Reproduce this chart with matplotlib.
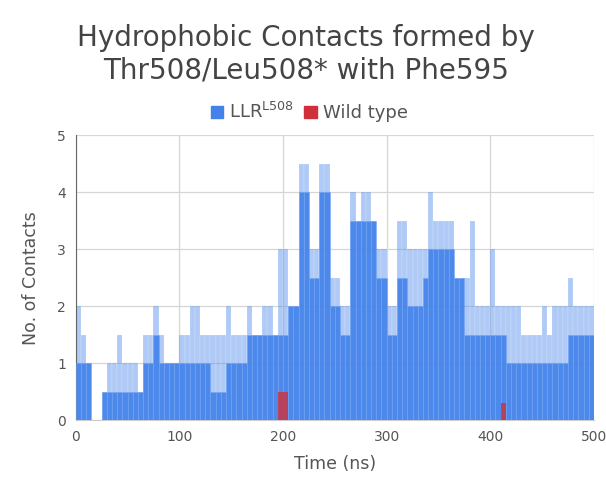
import numpy as np
import matplotlib
matplotlib.use("Agg")
import matplotlib.pyplot as plt
from matplotlib.patches import Patch

# time bins (ns), 5 ns wide
time = np.arange(0, 500, 5)

# LLR^L508: upper (light) envelope and lower (dark) level per bin
llr_high = [2, 1.5, 1, 0, 0, 0.5, 1, 1, 1.5, 1,
            1, 1, 0.5, 1.5, 1.5, 2, 1.5, 1, 1, 1,
            1.5, 1.5, 2, 2, 1.5, 1.5, 1.5, 1.5, 1.5, 2,
            1.5, 1.5, 1.5, 2, 1.5, 1.5, 2, 2, 1.5, 3,
            3, 2, 2, 4.5, 4.5, 3, 3, 4.5, 4.5, 2.5,
            2.5, 2, 2, 4, 3.5, 4, 4, 3.5, 3, 3,
            2, 2, 3.5, 3.5, 3, 3, 3, 3, 4, 3.5,
            3.5, 3.5, 3.5, 2.5, 2.5, 2.5, 3.5, 2, 2, 2,
            3, 2, 2, 2, 2, 2, 1.5, 1.5, 1.5, 1.5,
            2, 1.5, 2, 2, 2, 2.5, 2, 2, 2, 2]
llr_low = [1, 1, 1, 0, 0, 0.5, 0.5, 0.5, 0.5, 0.5,
           0.5, 0.5, 0.5, 1, 1, 1.5, 1, 1, 1, 1,
           1, 1, 1, 1, 1, 1, 0.5, 0.5, 0.5, 1,
           1, 1, 1, 1.5, 1.5, 1.5, 1.5, 1.5, 1.5, 1.5,
           1.5, 2, 2, 4, 4, 2.5, 2.5, 4, 4, 2,
           2, 1.5, 1.5, 3.5, 3.5, 3.5, 3.5, 3.5, 2.5, 2.5,
           1.5, 1.5, 2.5, 2.5, 2, 2, 2, 2.5, 3, 3,
           3, 3, 3, 2.5, 2.5, 1.5, 1.5, 1.5, 1.5, 1.5,
           1.5, 1.5, 1.5, 1, 1, 1, 1, 1, 1, 1,
           1, 1, 1, 1, 1, 1.5, 1.5, 1.5, 1.5, 1.5]

# wild type (mostly zero)
wt = np.zeros(100)
wt[39] = 0.5
wt[40] = 0.5
wt[82] = 0.3

blue = "#4282ea"
red = "#d0303a"
grey = "#555555"

fig = plt.figure(figsize=(6.06, 4.88), dpi=100)
ax = fig.add_axes([0.125, 0.139, 0.855, 0.584])

ax.bar(time, llr_high, width=5, align="edge", color=blue, alpha=0.42,
       edgecolor="white", linewidth=0.3, zorder=2)
ax.bar(time, llr_low, width=5, align="edge", color=blue, alpha=0.9,
       edgecolor="#75a4f2", linewidth=0.4, zorder=3)
ax.bar(time, wt, width=5, align="edge", color=red, alpha=0.8,
       linewidth=0, zorder=4)

ax.set_xlim(0, 500)
ax.set_ylim(0, 5)
ax.set_xticks([0, 100, 200, 300, 400, 500])
ax.set_yticks([0, 1, 2, 3, 4, 5])
ax.grid(True, color="#d6d6d6", linewidth=0.9, zorder=0)
ax.set_axisbelow(True)
for s in ["top", "right"]:
    ax.spines[s].set_visible(False)
ax.spines["left"].set_color("#666666")
ax.spines["bottom"].set_color("#cccccc")
ax.tick_params(length=0, labelsize=10, colors=grey, pad=7)

ax.set_xlabel("Time (ns)", fontsize=12.5, color=grey, labelpad=8)
ax.set_ylabel("No. of Contacts", fontsize=12.5, color=grey, labelpad=12)

fig.text(0.505, 0.95, "Hydrophobic Contacts formed by\nThr508/Leu508* with Phe595",
         ha="center", va="top", fontsize=20, color="#444444", linespacing=1.2)

handles = [Patch(color=blue), Patch(color=red)]
fig.legend(handles, ["LLR$^{\\mathregular{L508}}$", "Wild type"], loc="center",
           bbox_to_anchor=(0.51, 0.77), ncol=2, frameon=False, fontsize=13,
           handlelength=0.7, handleheight=0.7, handletextpad=0.3,
           columnspacing=0.6, labelcolor=grey)

fig.savefig("out.png", dpi=100)
